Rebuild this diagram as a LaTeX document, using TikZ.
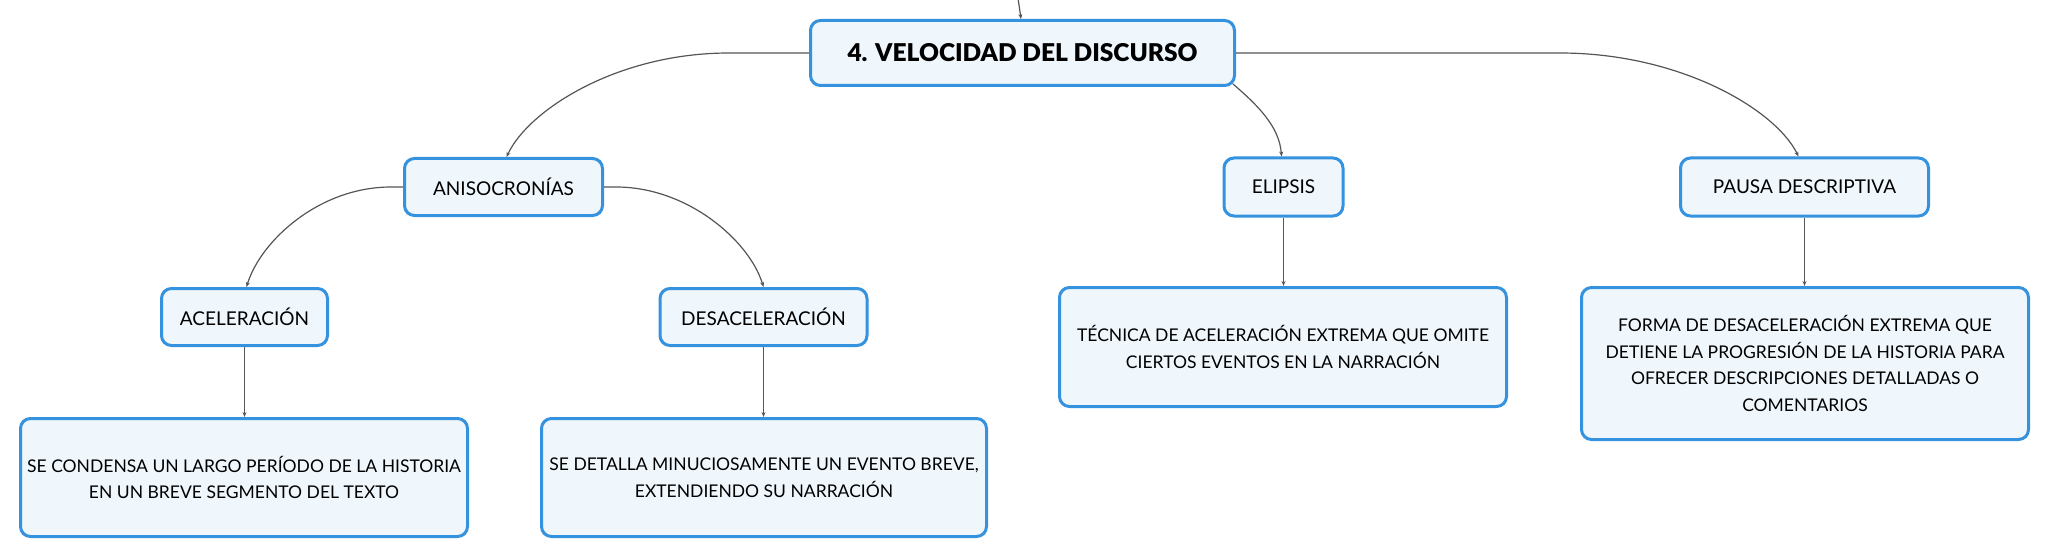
\documentclass[tikz,border=0pt]{standalone}
\usepackage{fontspec}
\setmainfont{Lato}[BoldFont={Lato Black}]
\usetikzlibrary{arrows.meta}
\definecolor{boxborder}{RGB}{52,146,222}
\definecolor{boxfill}{RGB}{239,247,253}
\definecolor{linkcol}{RGB}{85,85,85}
\begin{document}
\begin{tikzpicture}[x=1pt,y=-1pt,
  box/.style={draw=boxborder, fill=boxfill, line width=3pt, rounded corners=10pt, align=center, inner sep=0pt, text=black},
  rootbox/.style={box, font=\fontsize{24.5}{28}\selectfont\bfseries},
  labbox/.style={box, font=\fontsize{19}{22}\selectfont},
  descbox/.style={box, font=\fontsize{17.5}{26.5}\selectfont},
  link/.style={draw=linkcol, line width=1.2pt, -{Stealth[length=5pt,width=4pt]}}
]
\useasboundingbox (0,0) rectangle (2046,559);

\node[rootbox, minimum width=424pt, minimum height=65pt] (root) at (1022.5,53) {4. VELOCIDAD DEL DISCURSO};
\node[labbox, minimum width=198pt, minimum height=57pt] (anis) at (503.5,187) {ANISOCRONÍAS};
\node[labbox, minimum width=119pt, minimum height=58pt] (elip) at (1283.5,187) {ELIPSIS};
\node[labbox, minimum width=248pt, minimum height=58pt] (pausa) at (1804.5,187) {PAUSA DESCRIPTIVA};
\node[labbox, minimum width=166pt, minimum height=57pt] (acel) at (244.5,317) {ACELERACIÓN};
\node[labbox, minimum width=207pt, minimum height=57pt] (desacel) at (763.5,317) {DESACELERACIÓN};

\node[descbox, minimum width=447pt, minimum height=118pt] (box1) at (244,477.5) {SE CONDENSA UN LARGO PERÍODO DE LA HISTORIA\\EN UN BREVE SEGMENTO DEL TEXTO};
\node[descbox, minimum width=445pt, minimum height=118pt] (box2) at (764,477.5) {SE DETALLA MINUCIOSAMENTE UN EVENTO BREVE,\\EXTENDIENDO SU NARRACIÓN};
\node[descbox, minimum width=447pt, minimum height=119pt] (box3) at (1283,347) {TÉCNICA DE ACELERACIÓN EXTREMA QUE OMITE\\CIERTOS EVENTOS EN LA NARRACIÓN};
\node[descbox, minimum width=447pt, minimum height=152pt] (box4) at (1805,363.5) {FORMA DE DESACELERACIÓN EXTREMA QUE\\DETIENE LA PROGRESIÓN DE LA HISTORIA PARA\\OFRECER DESCRIPCIONES DETALLADAS O\\COMENTARIOS};

\coordinate (topin) at (1018,-2);
\draw[link] (topin) -- ([xshift=-1.5pt]root.north);

\draw[link] (root.west) -- ++(-80,0) .. controls +(-112,0) and +(22,-47) .. ([xshift=3pt]anis.north);
\draw[link] ([shift={(-3,-3)}]root.south east) .. controls +(22,19) and +(-2,-31) .. ([xshift=-2pt]elip.north);
\draw[link] (root.east) -- ++(324,0) .. controls +(120,0) and +(-23,-47) .. ([xshift=-6pt]pausa.north);

\draw[link] (anis.west) -- ++(-12,0) .. controls +(-72,0) and +(14,-46) .. ([xshift=2pt]acel.north);
\draw[link] (anis.east) -- ++(12,0) .. controls +(72,0) and +(-14,-46) .. (desacel.north);

\draw[link] (acel.south) -- (acel.south |- box1.north);
\draw[link] (desacel.south) -- (desacel.south |- box2.north);
\draw[link] (elip.south) -- (elip.south |- box3.north);
\draw[link] (pausa.south) -- (pausa.south |- box4.north);
\end{tikzpicture}
\end{document}
